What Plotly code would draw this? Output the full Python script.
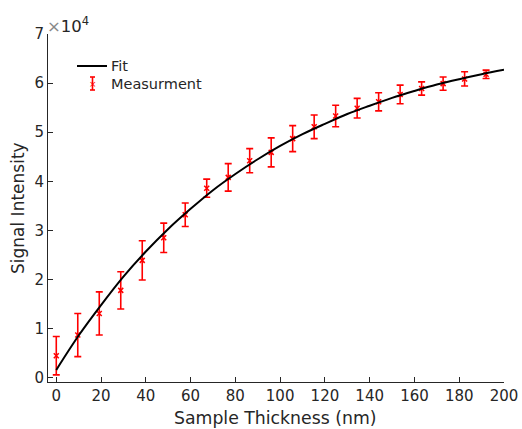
import plotly.graph_objects as go

thickness = [0, 9.6, 19.2, 28.8, 38.4, 48, 57.6, 67.2, 76.8, 86.4, 96, 105.6,
             115.2, 124.8, 134.4, 144, 153.6, 163.2, 172.8, 182.4, 192]
signal = [4500, 8700, 13100, 17800, 23900, 28500, 33200, 38600, 40800, 44200,
          45900, 48700, 51100, 53300, 54900, 56200, 57700, 58900, 59900, 60850, 61800]
signal_err = [3900, 4400, 4400, 3800, 4000, 3000, 2400, 1850, 2800, 2450,
              2950, 2650, 2400, 2200, 2000, 1850, 1900, 1350, 1350, 1450, 850]

# Fit curve
fit_x = [0, 10, 20, 30, 40, 50, 60, 70, 80, 90, 100, 110, 120, 130, 140, 150,
         160, 170, 180, 190, 200]
fit_y = [1600, 8600, 14800, 20600, 25700, 30300, 34400, 38200, 41500, 44500,
         47200, 49600, 51700, 53700, 55400, 57000, 58400, 59700, 60800, 61800, 62700]

x_ticks = [0, 20, 40, 60, 80, 100, 120, 140, 160, 180, 200]
y_ticks = [0, 10000, 20000, 30000, 40000, 50000, 60000, 70000]
y_ticktext = ["0", "1", "2", "3", "4", "5", "6", "7"]

AX = "#262626"
FONT = "DejaVu Sans"

# plot-area geometry in pixels (for hand-placed legend and titles)
W, H = 522, 429
L, R, T, B = 48, 18, 34, 47
PW, PH = W - L - R, H - T - B


def px(x):
    return (x - L) / PW


def py(y):
    return (H - B - y) / PH


fig = go.Figure()
fig.add_trace(go.Scatter(
    x=thickness, y=signal, mode="markers", name="Measurment",
    marker=dict(symbol="x-thin", size=5, color="red", line=dict(color="red", width=1.5)),
    error_y=dict(type="data", array=signal_err, color="red", thickness=1.6, width=3.5),
))
fig.add_trace(go.Scatter(
    x=fit_x, y=fit_y, mode="lines", name="Fit", line_shape="spline",
    line=dict(color="black", width=2),
))

# legend drawn by hand to match the compact MATLAB legend
shapes = [
    dict(type="line", xref="paper", yref="paper", x0=px(77), x1=px(107), y0=py(66), y1=py(66),
         line=dict(color="black", width=2)),
    dict(type="line", xref="paper", yref="paper", x0=px(92.5), x1=px(92.5), y0=py(77), y1=py(90),
         line=dict(color="red", width=1.6)),
    dict(type="line", xref="paper", yref="paper", x0=px(90), x1=px(95), y0=py(77), y1=py(77),
         line=dict(color="red", width=1.6)),
    dict(type="line", xref="paper", yref="paper", x0=px(90), x1=px(95), y0=py(90), y1=py(90),
         line=dict(color="red", width=1.6)),
]
annotations = [
    dict(xref="paper", yref="paper", x=px(109), y=py(66), xanchor="left", yanchor="middle",
         text="Fit", showarrow=False, font=dict(size=14.5, color=AX, family=FONT)),
    dict(xref="paper", yref="paper", x=px(109), y=py(83.5), xanchor="left", yanchor="middle",
         text="Measurment", showarrow=False, font=dict(size=14.5, color=AX, family=FONT)),
    dict(xref="paper", yref="paper", x=px(92.5), y=py(83.5), xanchor="center", yanchor="middle",
         text="×", showarrow=False, font=dict(size=9, color="red", family=FONT)),
    dict(xref="paper", yref="paper", x=0, y=1.0, xanchor="left", yanchor="bottom",
         text="<span style='color:#888888'>×</span>10<sup>4</sup>", showarrow=False,
         font=dict(size=16.5, color=AX, family=FONT), xshift=-3, yshift=-4),
    # axis titles
    dict(xref="paper", yref="paper", x=px(274.5), y=py(418), xanchor="center", yanchor="middle",
         text="Sample Thickness (nm)", showarrow=False, font=dict(size=17.3, color=AX, family=FONT)),
    dict(xref="paper", yref="paper", x=px(18), y=0.5, xanchor="center", yanchor="middle",
         text="Signal Intensity", textangle=-90, showarrow=False,
         font=dict(size=17, color=AX, family=FONT)),
]

fig.update_layout(
    width=W, height=H,
    margin=dict(l=L, r=R, t=T, b=B),
    paper_bgcolor="white", plot_bgcolor="white",
    font=dict(family=FONT, color=AX, size=15),
    showlegend=False,
    xaxis=dict(range=[-3.7, 200], tickmode="array", tickvals=x_ticks,
               showgrid=False, zeroline=False, showline=True, linecolor=AX, linewidth=1,
               ticks="inside", ticklen=5, tickcolor=AX, mirror=False, automargin=False),
    yaxis=dict(range=[-860, 70000], tickmode="array", tickvals=y_ticks, ticktext=y_ticktext,
               showgrid=False, zeroline=False, showline=True, linecolor=AX, linewidth=1,
               ticks="inside", ticklen=5, tickcolor=AX, mirror=False, automargin=False),
    shapes=shapes,
    annotations=annotations,
)

fig.write_html("out.html", config={"displayModeBar": False},
               post_script="document.body.style.margin='0';")
